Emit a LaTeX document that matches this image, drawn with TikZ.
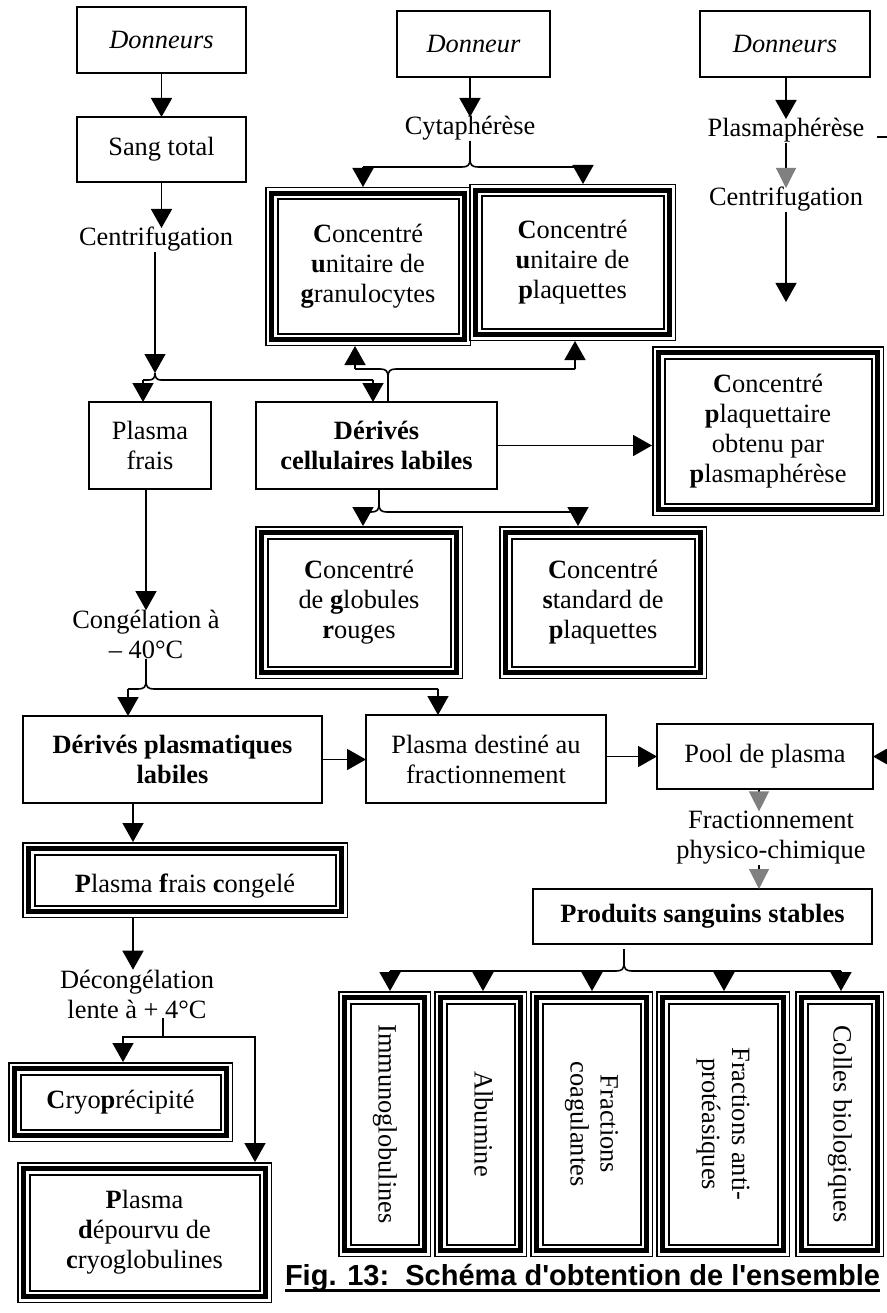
\documentclass[tikz,border=0pt]{standalone}
\usepackage{fontspec}
\setmainfont{Liberation Serif}
\setsansfont{Liberation Sans}
\usepackage{graphicx}
\usetikzlibrary{arrows.meta}

\tikzset{
  every node/.style={inner sep=0pt, outer sep=0pt},
  box/.style={draw, line width=1.6pt, align=center},
  tri/.style={align=center},
  lbl/.style={align=center},
  one/.style={text height=18pt, text depth=6pt},
  ln/.style={line width=1.6pt},
  arr/.style={line width=1.6pt, -{Triangle[width=21pt,length=19pt]}},
  arrthin/.style={line width=1.2pt, -{Triangle[width=21pt,length=19pt]}},
  garr/.style={line width=1.2pt, -{Triangle[width=20pt,length=20pt,color=gray]}},
}

% thin / thick / thin frame drawn around a node
\newcommand{\tribord}[1]{%
  \draw[line width=1.5pt] ([shift={(0.75pt,-0.75pt)}]#1.north west) rectangle ([shift={(-0.75pt,0.75pt)}]#1.south east);
  \draw[line width=5pt] ([shift={(6.5pt,-6.5pt)}]#1.north west) rectangle ([shift={(-6.5pt,6.5pt)}]#1.south east);
  \draw[line width=2pt] ([shift={(12.5pt,-12.5pt)}]#1.north west) rectangle ([shift={(-12.5pt,12.5pt)}]#1.south east);
}
\newcommand{\vtext}[1]{\rotatebox[origin=c]{-90}{\begin{tabular}{@{}c@{}}#1\end{tabular}}}

\begin{document}
\begin{tikzpicture}[x=1pt,y=-1pt,font=\fontsize{26.4pt}{30pt}\selectfont]
\useasboundingbox (0,0) rectangle (886,1313);
\fill[white] (0,0) rectangle (886,1313);

% ---------- sources ----------
\node[box, minimum width=169pt, minimum height=66pt] (don1) at (161.5,40) {\textit{Donneurs}};
\node[box, minimum width=169pt, minimum height=65pt] (sang) at (161.5,149.5) {Sang total};
\node[lbl, one] (cf1) at (156,240) {Centrifugation};
\node[box, minimum width=153pt, minimum height=66pt] (don2) at (473.5,44) {\textit{Donneur}};
\node[lbl, one] (cyta) at (470,129) {Cytaphérèse};
\node[box, minimum width=170pt, minimum height=66pt] (don3) at (785,44) {\textit{Donneurs}};
\node[lbl, one] (plm) at (786,131) {Plasmaphérèse};
\node[lbl, one] (cf2) at (786,200) {Centrifugation};

% ---------- cellular products ----------
\node[tri, minimum width=206pt, minimum height=159pt] (gran) at (368,266.5) {\textbf{C}oncentré\\\textbf{u}nitaire de\\\textbf{g}ranulocytes};
\node[tri, minimum width=207pt, minimum height=157pt] (cup) at (572.5,262.5) {\textbf{C}oncentré\\\textbf{u}nitaire de\\\textbf{p}laquettes};
\node[tri, minimum width=232pt, minimum height=170pt] (cpp) at (768,431) {\textbf{C}oncentré\\\textbf{p}laquettaire\\obtenu par\\\textbf{p}lasmaphérèse};
\node[box, minimum width=122pt, minimum height=87pt] (pfr) at (150,445.5) {Plasma\\frais};
\node[box, minimum width=241pt, minimum height=87pt] (dcl) at (376.5,445.5) {\textbf{Dérivés}\\\textbf{cellulaires labiles}};
\node[tri, minimum width=208pt, minimum height=153pt] (cgr) at (359,602.5) {\textbf{C}oncentré\\de \textbf{g}lobules\\\textbf{r}ouges};
\node[tri, minimum width=208pt, minimum height=153pt] (csp) at (603,602.5) {\textbf{C}oncentré\\\textbf{s}tandard de\\\textbf{p}laquettes};

% ---------- plasma products ----------
\node[lbl] (cong) at (146,634.5) {Congélation à\\– 40°C};
\node[box, minimum width=299pt, minimum height=87pt] (dpl) at (172.5,759.5) {\textbf{Dérivés plasmatiques}\\\textbf{labiles}};
\node[box, minimum width=240pt, minimum height=88pt] (pdest) at (486,759) {Plasma destiné au\\fractionnement};
\node[box, minimum width=216pt, minimum height=65pt] (pool) at (765,756.5) {Pool de plasma};
\node[lbl] (frac) at (771,838) {Fractionnement\\physico-chimique};
\node[box, minimum width=339pt, minimum height=55pt] (prod) at (702.5,916.5) {\textbf{Produits sanguins stables}};

\begin{scope}
  \clip (35.5,855.5) rectangle (334.5,904.5);
  \node[tri, minimum width=326pt, minimum height=76pt, text height=25pt, text depth=0pt] (pfc) at (185,880) {\textbf{P}lasma \textbf{f}rais \textbf{c}ongelé};
\end{scope}
\node[lbl] (dec) at (137,994) {Décongélation\\lente à + 4°C};
\node[tri, minimum width=225pt, minimum height=80pt] (cryo) at (120.5,1102) {\textbf{C}ryo\textbf{p}récipité};
\node[tri, minimum width=255pt, minimum height=141pt] (pdep) at (144.5,1232.5) {\textbf{P}lasma\\\textbf{d}épourvu de\\\textbf{c}ryoglobulines};

% ---------- stable products ----------
\node[tri, minimum width=93pt, minimum height=266pt] (v1) at (384.5,1124) {\vtext{Immunoglobulines}};
\node[tri, minimum width=93pt, minimum height=266pt] (v2) at (480.5,1124) {\vtext{Albumine}};
\node[tri, minimum width=123pt, minimum height=266pt] (v3) at (591.5,1124) {\vtext{Fractions\\coagulantes}};
\node[tri, minimum width=134pt, minimum height=266pt] (v4) at (723,1124) {\vtext{Fractions anti-\\protéasiques}};
\node[tri, minimum width=89pt, minimum height=266pt] (v5) at (839.5,1124) {\vtext{Colles biologiques}};

\foreach \n in {gran,cup,cpp,cgr,csp,pfc,cryo,pdep,v1,v2,v3,v4,v5} {\tribord{\n}}

% ---------- caption ----------
\node[anchor=base west, font=\sffamily\bfseries\fontsize{29pt}{34pt}\selectfont] (cap) at (285,1285) {Fig. 13:\ \ Schéma d\textquotesingle obtention de l\textquotesingle ensemble};
\draw[line width=2.6pt] ([yshift=-5.5pt]cap.base west) -- ([yshift=-5.5pt]cap.base east);

% ---------- connectors: whole blood ----------
\draw[arr] (don1) -- (sang);
\draw[arr] (sang.south) -- (sang.south |- cf1.north);
\coordinate (c0) at (155,373);
\coordinate (cL) at (143,380);
\coordinate (cR) at (373,380);
\draw[arrthin] (cf1.south -| c0) -- (c0);
\draw[ln] (cL) -- (149,380) .. controls (153,380) and (155,378) .. (c0);
\draw[ln] (cR) -- (161,380) .. controls (157,380) and (155,378) .. (c0);
\draw[arr] (cL) -- (cL |- pfr.north);
\draw[arr] (cR) -- (cR |- dcl.north);

% ---------- connectors: cytapheresis ----------
\coordinate (a0) at (470,159);
\coordinate (aL) at (363,167);
\coordinate (aR) at (583,167);
\draw[arr] (don2.south -| a0) -- (cyta.north -| a0);
\draw[ln] (cyta.south -| a0) -- (a0) .. controls (470,165) and (472,167) .. (478,167) -- (aR);
\draw[ln] (a0) .. controls (470,165) and (468,167) .. (462,167) -- (aL);
\draw[arr] (aL) -- (aL |- gran.north);
\draw[arr] (aR) -- (aR |- cup.north);

\coordinate (b0) at (388,377);
\coordinate (bL) at (355,369);
\coordinate (bR) at (575,369);
\draw[ln] (dcl.north -| b0) -- (b0) .. controls (388,371) and (390,369) .. (396,369) -- (bR);
\draw[ln] (b0) .. controls (388,371) and (386,369) .. (380,369) -- (bL);
\draw[arr] (bL) -- (bL |- gran.south);
\draw[arr] (bR) -- (bR |- cup.south);

\coordinate (d0) at (379,504);
\coordinate (dL) at (363,512);
\coordinate (dR) at (578,512);
\draw[ln] (dcl.south -| d0) -- (d0) .. controls (379,510) and (381,512) .. (387,512) -- (dR);
\draw[ln] (d0) .. controls (379,510) and (377,512) .. (371,512) -- (dL);
\draw[arr] (dL) -- (dL |- cgr.north);
\draw[arr] (dR) -- (dR |- csp.north);

\draw[arr] (dcl.east) -- (dcl.east -| cpp.west);

% ---------- connectors: plasmapheresis ----------
\draw[arr] (plm.north |- don3.south) -- (plm.north);
\draw[garr] (plm.south) -- (cf2.north);
\coordinate (cfend) at (786,302);
\draw[arrthin] (cf2.south) -- (cfend);
\coordinate (st1) at (877,137);
\coordinate (st2) at (890,137);
\draw[ln] (st1) -- (st2);

% ---------- connectors: plasma ----------
\draw[arrthin] (pfr.south -| cong.north) -- (cong.north);
\coordinate (h0) at (146,681);
\coordinate (hL) at (128,689);
\coordinate (hR) at (438,689);
\draw[ln] (cong.south) -- (h0) .. controls (146,687) and (148,689) .. (154,689) -- (hR);
\draw[ln] (h0) .. controls (146,687) and (144,689) .. (138,689) -- (hL);
\draw[arr] (hL) -- (hL |- dpl.north);
\draw[arr] (hR) -- (hR |- pdest.north);

\draw[arr] (dpl.east) -- (dpl.east -| pdest.west);
\draw[arr] (pool.west -| pdest.east) -- (pool.west);
\coordinate (kin) at (900,756.5);
\draw[arr] (kin) -- (pool.east);

\coordinate (gx) at (759,800);
\draw[garr] (pool.south -| gx) -- (frac.north -| gx);
\draw[garr] (frac.south -| gx) -- (prod.north -| gx);

\coordinate (n0) at (624,963);
\coordinate (nL) at (390,971);
\coordinate (nR) at (841,971);
\draw[ln] ([yshift=-5pt]prod.south -| n0) -- (n0) .. controls (624,969) and (626,971) .. (632,971) -- (nR);
\draw[ln] (n0) .. controls (624,969) and (622,971) .. (616,971) -- (nL);
\draw[arr] (nL) -- (nL |- v1.north);
\coordinate (n2) at (483,971);
\coordinate (n3) at (592,971);
\coordinate (n4) at (724,971);
\draw[arr] (n2) -- (n2 |- v2.north);
\draw[arr] (n3) -- (n3 |- v3.north);
\draw[arr] (n4) -- (n4 |- v4.north);
\draw[arr] (nR) -- (nR |- v5.north);

% ---------- connectors: thawing ----------
\coordinate (ox) at (133,0);
\draw[arr] (dpl.south -| ox) -- (pfc.north -| ox);
\draw[arr] (pfc.south -| ox) -- (dec.north -| ox);
\coordinate (q0) at (163,1037);
\coordinate (qL) at (123,1037);
\coordinate (qR) at (255,1037);
\draw[ln] (dec.south -| q0) -- (q0);
\draw[arr] (q0) -- (qL) -- (qL |- cryo.north);
\draw[arr] (q0) -- (qR) -- (qR |- pdep.north);

\end{tikzpicture}
\end{document}
